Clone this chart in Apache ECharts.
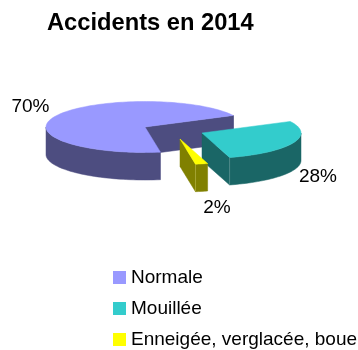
<!DOCTYPE html>
<html><head><meta charset="utf-8">
<style>html,body{margin:0;padding:0;background:#fff}#c{width:358px;height:350px}</style>
<script src="https://cdn.jsdelivr.net/npm/echarts@6/dist/echarts.min.js"></script>
</head><body><div id="c"></div>
<script>
const categories = ['Normale', 'Mouillée', 'Enneigée, verglacée, boue'];
const values = [70, 28, 2];
const topColors = ['#9999FF', '#33CCCC', '#FFFF00'];
const wallColors = ['#4D4D80', '#1A6666', '#808000'];
const edgeColors = ['#4D4D80', '#4F8A8A', '#A3A333'];
// layout of the tilted pie
const CX = 145, CY = 127, RX = 99, RY = 25.5, DEPTH = 27.5, START = 279;
const explodeX = [0, 57, 35], explodeY = [0, 6, 12];
const labelDX = [-114.5, 173, 72], labelDY = [-20, 50, 81];
const total = values.reduce((a, b) => a + b, 0);

function sliceAngles(i) {
  let before = 0;
  for (let k = 0; k < i; k++) before += values[k];
  const a0 = START - before / total * 360;
  return [a0, a0 - values[i] / total * 360];
}
function pt(cx, cy, deg, dz) {
  const r = deg * Math.PI / 180;
  return [cx + RX * Math.cos(r), cy - RY * Math.sin(r) + (dz || 0)];
}
function arc(cx, cy, from, to, dz) {
  const n = Math.max(2, Math.ceil(Math.abs(to - from) / 2));
  const out = [];
  for (let j = 0; j <= n; j++) out.push(pt(cx, cy, from + (to - from) * j / n, dz));
  return out;
}
function poly(points, fill) {
  return { type: 'polygon', shape: { points }, style: { fill, stroke: fill, lineWidth: 0.5 } };
}
function renderSlice(i) {
  const [a0, a1] = sliceAngles(i);
  const cx = CX + explodeX[i], cy = CY + explodeY[i];
  const wall = wallColors[i], top = topColors[i];
  const children = [];
  const apex = [cx, cy], apexB = [cx, cy + DEPTH];
  const pb = pt(cx, cy, a1);
  const pbD = [pb[0], pb[1] + DEPTH];
  // the cut face at the clockwise end of each slice looks toward the viewer
  children.push(poly([apex, pb, pbD, apexB], wall));
  // outer wall: the part of the rim on the front half
  for (let k = 0; k < 2; k++) {
    const lo = Math.max(a1, 180 + 360 * (k - 1));
    const hi = Math.min(a0, 360 + 360 * (k - 1));
    if (hi > lo) {
      children.push(poly(arc(cx, cy, lo, hi, 0).concat(arc(cx, cy, hi, lo, DEPTH)), wall));
    }
  }
  // faint vertical edge between cut face and outer wall
  children.push({
    type: 'line',
    shape: { x1: pb[0], y1: pb[1], x2: pbD[0], y2: pbD[1] },
    style: { stroke: edgeColors[i], lineWidth: 1 }
  });
  // top face
  children.push(poly([apex].concat(arc(cx, cy, a0, a1, 0)), top));
  // percentage label
  children.push({
    type: 'text',
    style: {
      x: CX + labelDX[i], y: CY + labelDY[i],
      text: Math.round(values[i] / total * 100) + '%',
      fill: '#000', font: '19px "Liberation Sans"', align: 'center', verticalAlign: 'middle'
    }
  });
  return { type: 'group', children };
}

const chart = echarts.init(document.getElementById('c'), null, { renderer: 'canvas' });
chart.setOption({
  animation: false,
  backgroundColor: '#fff',
  title: {
    text: 'Accidents en 2014', left: 42, top: 6,
    textStyle: { color: '#000', fontFamily: 'Liberation Sans', fontWeight: 'bold', fontSize: 23.7 }
  },
  legend: {
    orient: 'vertical', left: 113, top: 268, height: 120, padding: 0,
    itemWidth: 13, itemHeight: 13, itemGap: 12,
    icon: 'rect', selectedMode: false, data: categories,
    textStyle: { color: '#000', fontFamily: 'Liberation Sans', fontSize: 19 }
  },
  series: categories.map((name, i) => ({
    type: 'custom', name, coordinateSystem: 'none', silent: true,
    itemStyle: { color: topColors[i] },
    data: [{ name, value: [values[i]] }],
    renderItem: () => renderSlice(i)
  }))
});
</script></body></html>
